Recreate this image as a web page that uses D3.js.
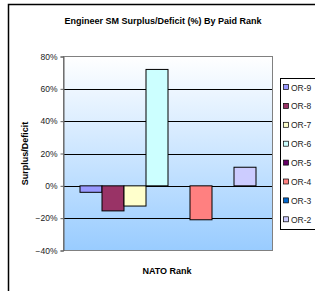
<!DOCTYPE html>
<html>
<head>
<meta charset="utf-8">
<script src="https://cdn.jsdelivr.net/npm/d3@7"></script>
<style>
  html, body { margin: 0; padding: 0; background: #fff; }
  svg { display: block; font-family: "Liberation Sans", Arial, sans-serif; }
</style>
</head>
<body>
<svg id="chart" width="315" height="291"></svg>
<script>
// chart data
const ranks = ["OR-9", "OR-8", "OR-7", "OR-6", "OR-5", "OR-4", "OR-3", "OR-2"];
const surplus = [-0.04, -0.155, -0.125, 0.72, 0, -0.21, 0, 0.115];
const rankColors = ["#9999FF", "#993366", "#FFFFCC", "#CCFFFF", "#660066", "#FF8080", "#0066CC", "#CCCCFF"];
const yTicks = [-0.4, -0.2, 0, 0.2, 0.4, 0.6, 0.8];

const svg = d3.select("#chart");

// outer chart frame (runs off the right / bottom of the picture)
svg.append("rect")
    .attr("x", 8.5).attr("y", 4.5)
    .attr("width", 400).attr("height", 400)
    .attr("fill", "#fff")
    .attr("stroke", "#000")
    .attr("stroke-width", 1.5);

const plot = { left: 63.5, right: 272.5, top: 56.5, bottom: 250.5 };

const x = d3.scaleBand()
    .domain(ranks)
    .range([plot.left, plot.right])
    .paddingInner(0)
    .paddingOuter(0.75);

const y = d3.scaleLinear()
    .domain([-0.4, 0.8])
    .range([plot.bottom, plot.top]);

// plot background gradient
const defs = svg.append("defs");
const grad = defs.append("linearGradient")
    .attr("id", "bg").attr("x1", 0).attr("y1", 0).attr("x2", 0).attr("y2", 1);
grad.append("stop").attr("offset", "0%").attr("stop-color", "#FFFFFF");
grad.append("stop").attr("offset", "100%").attr("stop-color", "#99CCFF");

svg.append("rect")
    .attr("x", plot.left).attr("y", plot.top)
    .attr("width", plot.right - plot.left)
    .attr("height", plot.bottom - plot.top)
    .attr("fill", "url(#bg)");

// gridlines
svg.append("g")
    .selectAll("line")
    .data(yTicks.filter(t => t > -0.4 && t < 0.8))
    .enter()
    .append("line")
    .attr("x1", plot.left).attr("x2", plot.right)
    .attr("y1", d => Math.round(y(d)) + 0.5)
    .attr("y2", d => Math.round(y(d)) + 0.5)
    .attr("stroke", "#000")
    .attr("stroke-width", 1);

// bars
svg.append("g")
    .selectAll("rect")
    .data(ranks)
    .enter()
    .append("rect")
    .attr("x", d => x(d))
    .attr("width", x.bandwidth())
    .attr("y", (d, i) => y(Math.max(0, surplus[i])))
    .attr("height", (d, i) => Math.abs(y(surplus[i]) - y(0)))
    .attr("fill", (d, i) => rankColors[i])
    .attr("stroke", "#000")
    .attr("stroke-width", 1);

// plot border
svg.append("rect")
    .attr("x", plot.left).attr("y", plot.top)
    .attr("width", plot.right - plot.left)
    .attr("height", plot.bottom - plot.top)
    .attr("fill", "none")
    .attr("stroke", "#808080")
    .attr("stroke-width", 1);

// y axis
const yAxis = svg.append("g")
    .attr("transform", `translate(${plot.left},0)`)
    .call(d3.axisLeft(y).tickValues(yTicks).tickFormat(d3.format(".0%")).tickSize(3).tickPadding(3));
yAxis.select(".domain").attr("stroke", "#606060");
yAxis.selectAll(".tick line").attr("stroke", "#606060");
yAxis.selectAll("text")
    .attr("font-size", "8.5px")
    .attr("fill", "#222")
    .attr("font-family", "'Liberation Sans', Arial, sans-serif");

// titles
svg.append("text")
    .attr("x", 163).attr("y", 24)
    .attr("text-anchor", "middle")
    .attr("font-size", "9px")
    .attr("font-weight", "bold")
    .text("Engineer SM Surplus/Deficit (%) By Paid Rank");

svg.append("text")
    .attr("transform", `translate(28, ${(plot.top + plot.bottom) / 2}) rotate(-90)`)
    .attr("text-anchor", "middle")
    .attr("font-size", "9px")
    .attr("font-weight", "bold")
    .text("Surplus/Deficit");

svg.append("text")
    .attr("x", 167).attr("y", 274)
    .attr("text-anchor", "middle")
    .attr("font-size", "9px")
    .attr("font-weight", "bold")
    .text("NATO Rank");

// legend
const legend = svg.append("g");
legend.append("rect")
    .attr("x", 280.5).attr("y", 78.5)
    .attr("width", 60).attr("height", 151)
    .attr("fill", "#fff")
    .attr("stroke", "#000")
    .attr("stroke-width", 1);

const items = legend.selectAll("g.item")
    .data(ranks)
    .enter()
    .append("g")
    .attr("class", "item")
    .attr("transform", (d, i) => `translate(283, ${87.5 + i * 18.9})`);

items.append("rect")
    .attr("x", 0.5).attr("y", -3)
    .attr("width", 5).attr("height", 5)
    .attr("fill", (d, i) => rankColors[i])
    .attr("stroke", "#000")
    .attr("stroke-width", 0.7);

items.append("text")
    .attr("x", 8).attr("y", 3)
    .attr("font-size", "8.5px")
    .attr("fill", "#222")
    .text(d => d);
</script>
</body>
</html>
